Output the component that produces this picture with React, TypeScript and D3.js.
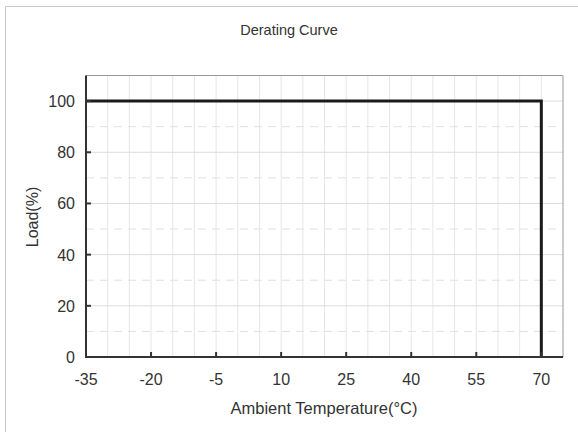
import React from "react";
import * as d3 from "d3";

const temps = [-35, 70, 70];
const loads = [100, 100, 0];
const xTicks = [-35, -20, -5, 10, 25, 40, 55, 70];
const yTicks = [0, 20, 40, 60, 80, 100];
const xGrid = d3.range(-30, 75, 5);
const yMinor = [10, 30, 50, 70, 90];

const W = 578;
const H = 432;
const M = { left: 86, right: 563, top: 75.5, bottom: 357 };
const FONT = "'Liberation Sans', Arial, sans-serif";

export default function App() {
  const x = d3.scaleLinear().domain([-35, 75]).range([M.left, M.right]);
  const y = d3.scaleLinear().domain([0, 110]).range([M.bottom, M.top]);
  const pts = temps.map((t, i) => [t, loads[i]] as [number, number]);
  const line = d3.line<[number, number]>().x(d => x(d[0])).y(d => y(d[1]));

  return (
    <svg width={W} height={H} style={{ position: "absolute", left: 0, top: 0 }}>
      <rect width={W} height={H} fill="#fff" />
      {/* outer frame */}
      <line x1={5.5} x2={W} y1={6.5} y2={6.5} stroke="#c8c8c8" />
      <line x1={5.5} x2={5.5} y1={6.5} y2={H} stroke="#c8c8c8" />

      <text x={289} y={35} textAnchor="middle" fontFamily={FONT} fontSize={14.5} fill="#333">
        Derating Curve
      </text>

      {/* grid */}
      {xGrid.map(v => (
        <line key={"gx" + v} x1={x(v)} x2={x(v)} y1={M.top} y2={M.bottom} stroke="#e6e6e6" />
      ))}
      {yTicks.slice(1).map(v => (
        <line key={"gy" + v} x1={M.left} x2={M.right} y1={y(v)} y2={y(v)} stroke="#dcdcdc" />
      ))}
      {yMinor.map(v => (
        <line key={"gm" + v} x1={M.left} x2={M.right} y1={y(v)} y2={y(v)} stroke="#e0e0e0" strokeDasharray="8,6" />
      ))}

      {/* frame top/right */}
      <line x1={M.left} x2={M.right} y1={M.top} y2={M.top} stroke="#999" />
      <line x1={M.right} x2={M.right} y1={M.top} y2={M.bottom} stroke="#999" />

      {/* data */}
      <path d={line(pts) || ""} fill="none" stroke="#1a1a1a" strokeWidth={3} />

      {/* axes */}
      <line x1={M.left} x2={M.left} y1={M.top} y2={M.bottom + 1} stroke="#333" strokeWidth={2} />
      <line x1={M.left - 1} x2={M.right} y1={M.bottom} y2={M.bottom} stroke="#333" strokeWidth={2} />
      {xTicks.map(v => (
        <g key={"xt" + v}>
          <line x1={x(v)} x2={x(v)} y1={M.bottom} y2={M.bottom - 5} stroke="#333" strokeWidth={2} />
          <text x={x(v)} y={385} textAnchor="middle" fontFamily={FONT} fontSize={16} fill="#333">
            {v}
          </text>
        </g>
      ))}
      {yTicks.map(v => (
        <g key={"yt" + v}>
          <line x1={M.left} x2={M.left + 5} y1={y(v)} y2={y(v)} stroke="#333" strokeWidth={2} />
          <text x={75} y={y(v) + 6} textAnchor="end" fontFamily={FONT} fontSize={16} fill="#333">
            {v}
          </text>
        </g>
      ))}

      <text x={324} y={414} textAnchor="middle" fontFamily={FONT} fontSize={16.5} fill="#333">
        Ambient Temperature(°C)
      </text>
      <text
        transform={`translate(37.5,217) rotate(-90)`}
        textAnchor="middle"
        fontFamily={FONT}
        fontSize={16}
        fill="#333"
      >
        Load(%)
      </text>
    </svg>
  );
}
